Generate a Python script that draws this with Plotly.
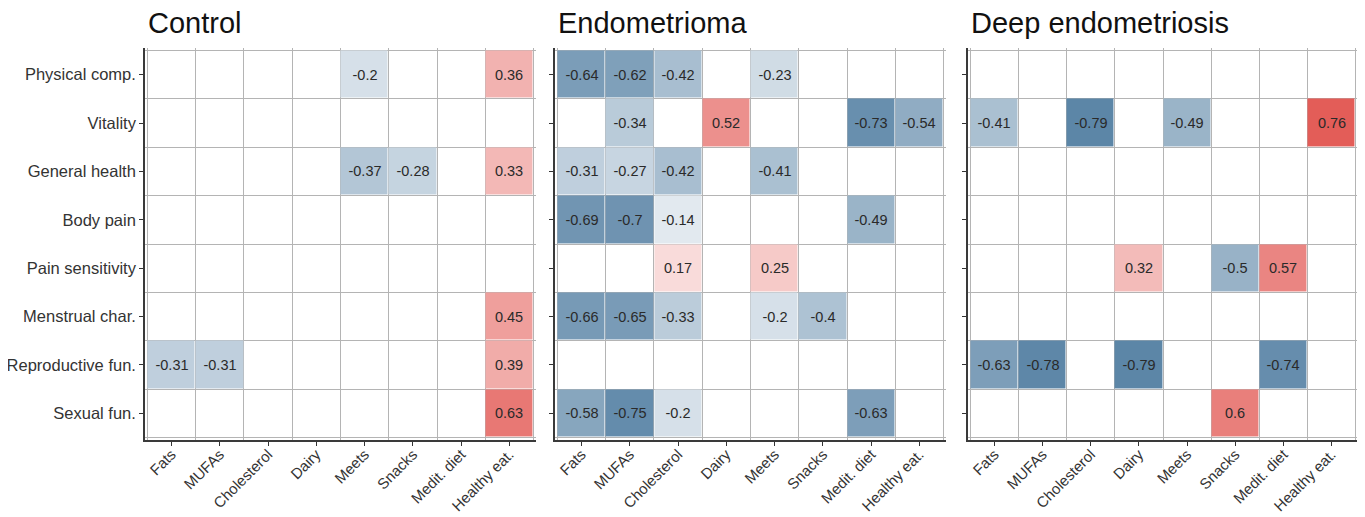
import plotly.graph_objects as go

foods = ["Fats", "MUFAs", "Cholesterol", "Dairy", "Meets", "Snacks", "Medit. diet", "Healthy eat."]
domains_qol = ["Physical comp.", "Vitality", "General health", "Body pain", "Pain sensitivity",
               "Menstrual char.", "Reproductive fun.", "Sexual fun."]
panel_titles = ["Control", "Endometrioma", "Deep endometriosis"]

control = [
    [None, None, None, None, -0.2, None, None, 0.36],
    [None, None, None, None, None, None, None, None],
    [None, None, None, None, -0.37, -0.28, None, 0.33],
    [None, None, None, None, None, None, None, None],
    [None, None, None, None, None, None, None, None],
    [None, None, None, None, None, None, None, 0.45],
    [-0.31, -0.31, None, None, None, None, None, 0.39],
    [None, None, None, None, None, None, None, 0.63],
]
endometrioma = [
    [-0.64, -0.62, -0.42, None, -0.23, None, None, None],
    [None, -0.34, None, 0.52, None, None, -0.73, -0.54],
    [-0.31, -0.27, -0.42, None, -0.41, None, None, None],
    [-0.69, -0.7, -0.14, None, None, None, -0.49, None],
    [None, None, 0.17, None, 0.25, None, None, None],
    [-0.66, -0.65, -0.33, None, -0.2, -0.4, None, None],
    [None, None, None, None, None, None, None, None],
    [-0.58, -0.75, -0.2, None, None, None, -0.63, None],
]
deep = [
    [None, None, None, None, None, None, None, None],
    [-0.41, None, -0.79, None, -0.49, None, None, 0.76],
    [None, None, None, None, None, None, None, None],
    [None, None, None, None, None, None, None, None],
    [None, None, None, 0.32, None, -0.5, 0.57, None],
    [None, None, None, None, None, None, None, None],
    [-0.63, -0.78, None, -0.79, None, None, -0.74, None],
    [None, None, None, None, None, 0.6, None, None],
]
panels = [control, endometrioma, deep]

OFF = 8  # default page body margin
W, H = 1365 - OFF, 517 - OFF
FONT = "Liberation Sans, Arial, Helvetica, sans-serif"
colorscale = [[0.0, "#5a84a6"], [0.5, "#ffffff"], [1.0, "#e2544f"]]

# panel pixel extents in page coordinates (left, right)
px_x = [(145, 536), (555, 946), (968, 1358)]
py_top, py_bot = 48, 440

fig = go.Figure()
for i, (data, (x0, x1)) in enumerate(zip(panels, px_x)):
    x0 -= OFF
    x1 -= OFF
    sfx = "" if i == 0 else str(i + 1)
    z = [[float("nan") if v is None else v for v in row] for row in data]
    txt = [["" if v is None else f"{v:g}" for v in row] for row in data]
    fig.add_trace(go.Heatmap(
        z=z, x=list(range(len(foods))), y=list(range(len(domains_qol))),
        text=txt, texttemplate="%{text}",
        textfont=dict(family=FONT, size=14.5, color="#2a2a2a"),
        colorscale=colorscale, zmin=-0.8, zmax=0.8, showscale=False,
        xgap=1, ygap=1, hoverongaps=False,
        xaxis="x" + sfx, yaxis="y" + sfx,
    ))
    grid = dict(tickmode="linear", tick0=0.5, dtick=1, showgrid=True,
                gridcolor="#b4b4b4", gridwidth=1)
    xa = dict(
        domain=[x0 / W, x1 / W], anchor="y" + sfx, automargin=False,
        range=[-0.55, len(foods) - 0.45],
        tickmode="array", tickvals=list(range(len(foods))), ticktext=foods,
        tickangle=-45, ticks="outside", ticklen=4, tickwidth=1, tickcolor="#333",
        tickfont=dict(family=FONT, size=15, color="#333"),
        ticklabelstandoff=-6,
        showline=True, linecolor="#3a3a3a", linewidth=1.6,
        showgrid=False, zeroline=False, minor=grid,
    )
    ya = dict(
        domain=[(H - (py_bot - OFF)) / H, (H - (py_top - OFF)) / H],
        anchor="x" + sfx, automargin=False,
        range=[len(domains_qol) - 0.45, -0.55],
        tickmode="array", tickvals=list(range(len(domains_qol))), ticktext=domains_qol,
        showticklabels=(i == 0),
        ticks="outside", ticklen=4, tickwidth=1, tickcolor="#333",
        tickfont=dict(family=FONT, size=16.5, color="#333"),
        showline=True, linecolor="#3a3a3a", linewidth=1.6,
        showgrid=False, zeroline=False, minor=grid,
    )
    fig.update_layout({"xaxis" + sfx: xa, "yaxis" + sfx: ya})
    fig.add_annotation(
        text=panel_titles[i], xref="paper", yref="paper",
        x=(x0 + 1) / W, y=(H - (23 - OFF)) / H, xanchor="left", yanchor="middle",
        showarrow=False, font=dict(family=FONT, size=29, color="#111"),
    )

fig.update_layout(
    width=W, height=H,
    margin=dict(l=0, r=0, t=0, b=0),
    paper_bgcolor="white", plot_bgcolor="white",
    showlegend=False,
)
fig.write_html("out.html")
